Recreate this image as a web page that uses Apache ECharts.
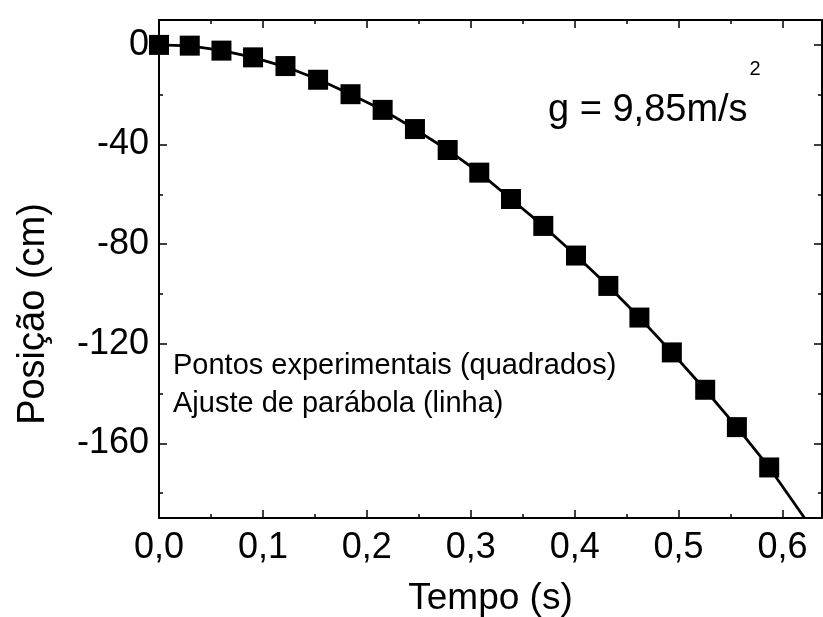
<!DOCTYPE html>
<html>
<head>
<meta charset="utf-8">
<script src="https://cdn.jsdelivr.net/npm/echarts@6/dist/echarts.min.js"></script>
<style>
  html, body { margin: 0; padding: 0; background: #fff; }
  #chart { width: 823px; height: 617px; }
</style>
</head>
<body>
<div id="chart"></div>
<script>
// Experimental points (squares)
const times = [0, 0.0296, 0.0601, 0.0905, 0.1217, 0.1531, 0.1843, 0.2152, 0.2463, 0.2778,
               0.3082, 0.3387, 0.3698, 0.4013, 0.4324, 0.4623, 0.4935, 0.5256, 0.5561, 0.5872];
const positions = [0, -0.3, -2.3, -5.0, -8.5, -14.0, -19.8, -26.1, -33.8, -42.2,
                   -51.3, -61.9, -72.7, -84.6, -96.8, -109.5, -123.5, -138.5, -153.5, -169.7];
// Parabola fit (line)
const fitTimes = [0, 0.0296, 0.0601, 0.0905, 0.1217, 0.1531, 0.1843, 0.2152, 0.2463, 0.2778,
                  0.3082, 0.3387, 0.3698, 0.4013, 0.4324, 0.4623, 0.4935, 0.5256, 0.5561, 0.5872, 0.6212];
const fitPositions = [0, -0.4, -2.2, -5.0, -8.8, -13.8, -19.8, -26.1, -33.8, -42.2,
                      -51.3, -61.9, -72.7, -84.6, -96.8, -109.5, -123.5, -138.5, -153.5, -169.7, -190];
// Axis ticks
const xTicks = [0, 0.1, 0.2, 0.3, 0.4, 0.5, 0.6];
const yMajor = [0, -40, -80, -120, -160];
const yMinor = [-20, -60, -100, -140, -180];

const X_MIN = 0, X_MAX = 0.638, Y_MIN = -190, Y_MAX = 10;
const FONT = 'Liberation Sans, Arial, sans-serif';

const chart = echarts.init(document.getElementById('chart'));

const lineStyle = { color: '#000', width: 2 };
function xAxisDef(pos, showLabel, name) {
  return {
    type: 'value', position: pos, min: X_MIN, max: X_MAX, interval: 0.1,
    splitLine: { show: false },
    axisLine: { show: true, onZero: false, lineStyle: lineStyle },
    axisTick: { show: true, inside: true, length: 8, lineStyle: { color: '#000', width: 1.5 } },
    minorTick: { show: true, splitNumber: 2, length: 4, lineStyle: { color: '#000', width: 1.5 } },
    axisLabel: {
      show: showLabel, color: '#000', fontFamily: FONT, fontSize: 36, margin: 12,
      formatter: v => xTicks.some(t => Math.abs(t - v) < 1e-6) ? v.toFixed(1).replace('.', ',') : ''
    },
    name: name, nameLocation: 'middle', nameGap: 62,
    nameTextStyle: { color: '#000', fontFamily: FONT, fontSize: 37 }
  };
}
function yAxisDef(pos, ticks, len, showLabel, showLine, name) {
  return {
    type: 'value', position: pos, min: Y_MIN, max: Y_MAX,
    splitLine: { show: false },
    axisLine: { show: showLine, onZero: false, lineStyle: lineStyle },
    axisTick: { show: true, inside: true, length: len, customValues: ticks,
                lineStyle: { color: '#000', width: 1.5 } },
    axisLabel: {
      show: showLabel, customValues: ticks, color: '#000', fontFamily: FONT, fontSize: 36, margin: 10,
      formatter: v => String(v)
    },
    name: name, nameLocation: 'middle', nameGap: 106,
    nameTextStyle: { color: '#000', fontFamily: FONT, fontSize: 38, padding: [0, 90, 0, 0] }
  };
}

chart.setOption({
  animation: false,
  backgroundColor: '#fff',
  grid: { left: 159, right: 1, top: 20, bottom: 99, containLabel: false, outerBoundsMode: 'none' },
  xAxis: [
    xAxisDef('bottom', true, 'Tempo (s)'),
    xAxisDef('top', false, '')
  ],
  yAxis: [
    yAxisDef('left', yMajor, 8, true, true, 'Posição (cm)'),
    yAxisDef('left', yMinor, 4, false, false, ''),
    yAxisDef('right', yMajor, 8, false, true, ''),
    yAxisDef('right', yMinor, 4, false, false, '')
  ],
  series: [
    {
      type: 'line', name: 'Ajuste de parábola',
      data: fitTimes.map((t, i) => [t, fitPositions[i]]),
      showSymbol: false, symbol: 'none', smooth: false, clip: true,
      lineStyle: { color: '#000', width: 2.8 }, z: 2
    },
    {
      type: 'scatter', name: 'Pontos experimentais',
      data: times.map((t, i) => [t, positions[i]]),
      symbol: 'rect', symbolSize: 20, clip: true,
      itemStyle: { color: '#000', opacity: 1 }, z: 3
    }
  ],
  graphic: [
    {
      type: 'text', left: 173, top: 347,
      style: {
        text: 'Pontos experimentais (quadrados)\nAjuste de parábola (linha)',
        fill: '#000', font: '29px ' + FONT, lineHeight: 38
      }
    },
    {
      type: 'text', left: 548, top: 58,
      style: {
        text: '{m|g = 9,85m/s}{sup|2}',
        fill: '#000', fontFamily: FONT,
        rich: {
          m: { fontSize: 38, fontFamily: FONT, lineHeight: 36, padding: [34, 0, 0, 0] },
          sup: { fontSize: 20, fontFamily: FONT, lineHeight: 20, padding: [0, 0, 50, 2] }
        }
      }
    }
  ]
});
</script>
</body>
</html>
